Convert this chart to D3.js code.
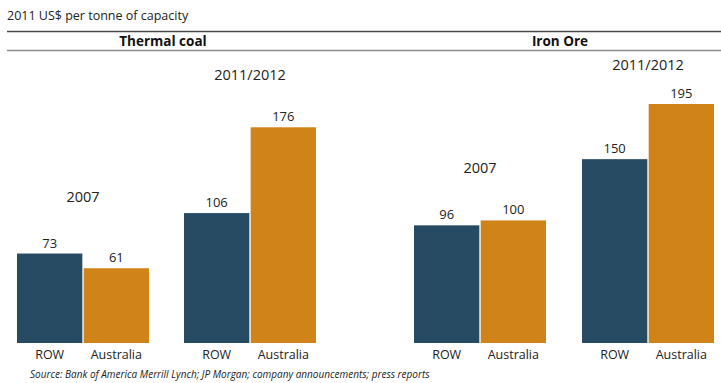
<!DOCTYPE html>
<html>
<head>
<meta charset="utf-8">
<script src="https://cdn.jsdelivr.net/npm/d3@7"></script>
<style>
  html, body { margin: 0; padding: 0; background: #fff; }
  svg { display: block; font-family: "Open Sans", "DejaVu Sans", sans-serif; }
</style>
</head>
<body>
<svg id="chart" width="721" height="383"></svg>
<script>
// Capital cost of new mine capacity, 2011 US$ per tonne
const commodities = ["Thermal coal", "Iron Ore"];
const periods = ["2007", "2011/2012"];
const regions = ["ROW", "Australia"];
// values[commodity][period][region]
const thermalCoal = [[73, 61], [106, 176]];
const ironOre = [[96, 100], [150, 195]];
const unitLabel = "2011 US$ per tonne of capacity";
const sourceNote = "Source:  Bank of America Merrill Lynch; JP Morgan; company announcements; press reports";

const colors = { ROW: "#284b64", Australia: "#d08318" };

const svg = d3.select("#chart");
const baseY = 343;
const maxH = 239;

const y = d3.scaleLinear().domain([0, 195]).range([baseY, baseY - maxH]);

// Horizontal placement of each (commodity, period) group
const groupX = d3.scaleOrdinal()
  .domain(["Thermal coal|2007", "Thermal coal|2011/2012", "Iron Ore|2007", "Iron Ore|2011/2012"])
  .range([17, 184, 414, 582]);
const barX = d3.scaleBand().domain(regions).range([0, 132]).paddingInner(0.02);

// Gap between the tallest bar and the period heading above each group
const headingLift = { "Thermal coal|2007": 57, "Thermal coal|2011/2012": 52, "Iron Ore|2007": 52, "Iron Ore|2011/2012": 39 };

// Unit label
svg.append("text").attr("x", 7).attr("y", 20)
  .attr("font-size", 12.5).attr("fill", "#222").text(unitLabel);

// Header rules
svg.append("line").attr("x1", 7).attr("x2", 721).attr("y1", 31.5).attr("y2", 31.5)
  .attr("stroke", "#4a4a4a").attr("stroke-width", 1.6);
svg.append("line").attr("x1", 7).attr("x2", 721).attr("y1", 50.5).attr("y2", 50.5)
  .attr("stroke", "#8a8a8a").attr("stroke-width", 1.6);

const headerX = { "Thermal coal": 163, "Iron Ore": 560 };
commodities.forEach(c => {
  svg.append("text").attr("x", headerX[c]).attr("y", 46)
    .attr("text-anchor", "middle").attr("font-size", 13.5).attr("font-weight", 700)
    .attr("fill", "#111").text(c);
});

const dataByCommodity = { "Thermal coal": thermalCoal, "Iron Ore": ironOre };

commodities.forEach(c => {
  periods.forEach((p, pi) => {
    const key = c + "|" + p;
    const g = svg.append("g").attr("transform", `translate(${groupX(key)},0)`);
    const vals = dataByCommodity[c][pi];
    const rows = regions.map((r, ri) => ({ region: r, value: vals[ri] }));

    g.selectAll("rect").data(rows).join("rect")
      .attr("x", d => barX(d.region))
      .attr("width", barX.bandwidth())
      .attr("y", d => y(d.value))
      .attr("height", d => baseY - y(d.value))
      .attr("fill", d => colors[d.region]);

    g.selectAll("text.val").data(rows).join("text").attr("class", "val")
      .attr("x", d => barX(d.region) + barX.bandwidth() / 2)
      .attr("y", d => y(d.value) - 6)
      .attr("text-anchor", "middle").attr("font-size", 13).attr("fill", "#222")
      .text(d => d.value);

    g.selectAll("text.cat").data(rows).join("text").attr("class", "cat")
      .attr("x", d => barX(d.region) + barX.bandwidth() / 2)
      .attr("y", baseY + 16)
      .attr("text-anchor", "middle").attr("font-size", 12.5).attr("fill", "#222")
      .text(d => d.region);

    const top = y(d3.max(vals));
    g.append("text")
      .attr("x", 66).attr("y", top - headingLift[key] + 5)
      .attr("text-anchor", "middle").attr("font-size", 14.5).attr("fill", "#222")
      .text(p);
  });
});

// Source note
svg.append("text").attr("x", 30).attr("y", 378)
  .attr("font-size", 10).attr("font-style", "italic").attr("fill", "#222")
  .text(sourceNote);
</script>
</body>
</html>
